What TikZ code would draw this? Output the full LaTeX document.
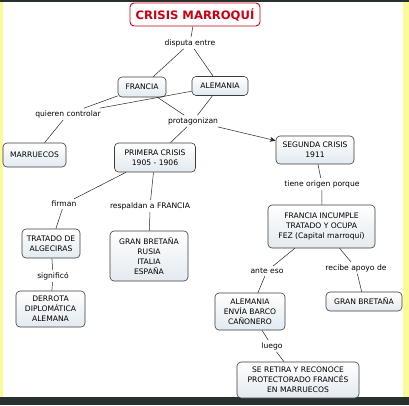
\documentclass[tikz,border=0pt]{standalone}
\usepackage{fontspec}
\setmainfont{DejaVu Sans}
\usetikzlibrary{arrows.meta}
\definecolor{boxline}{RGB}{60,60,60}
\definecolor{boxfill}{RGB}{226,234,240}
\definecolor{titlered}{RGB}{200,0,20}
\definecolor{edgeyellow}{RGB}{250,250,150}
\definecolor{barcol}{RGB}{40,48,48}
\tikzset{
  concept/.style={draw=boxline, line width=0.6pt, rounded corners=4pt, top color=white, bottom color=boxfill,
    align=center, font=\fontsize{7.6}{10}\selectfont, inner sep=1pt},
  linklabel/.style={align=center, font=\fontsize{7.6}{9}\selectfont, inner sep=2pt, fill=white},
  conn/.style={draw=black!85, line width=0.5pt},
}
\begin{document}
\begin{tikzpicture}[x=1pt,y=-1pt]
\useasboundingbox (0,0) rectangle (409,405);
\fill[white] (0,0) rectangle (409,405);
\fill[edgeyellow] (0,0) rectangle (3,405);
\fill[edgeyellow] (403,0) rectangle (409,405);
\fill[barcol] (0,0) rectangle (409,1.5);
\fill[barcol] (0,397) rectangle (409,405);

% concepts
\node[concept, draw=titlered, line width=0.9pt, top color=white, bottom color=white!92!boxfill,
  minimum width=130pt, minimum height=23pt, font=\bfseries\fontsize{11.6}{13}\selectfont, text=titlered] (title) at (195,14.5) {CRISIS MARROQUÍ};
\node[concept, minimum width=48pt, minimum height=20pt] (francia) at (142,87) {FRANCIA};
\node[concept, minimum width=56pt, minimum height=19pt] (alemania) at (220,86) {ALEMANIA};
\node[concept, minimum width=63pt, minimum height=24pt] (marruecos) at (34.5,155) {MARRUECOS};
\node[concept, minimum width=81pt, minimum height=29pt] (primera) at (155,157.5) {PRIMERA CRISIS\\1905 - 1906};
\node[concept, minimum width=78pt, minimum height=28pt] (segunda) at (315,150) {SEGUNDA CRISIS\\1911};
\node[concept, minimum width=58pt, minimum height=29pt] (tratado) at (51,243.5) {TRATADO DE\\ALGECIRAS};
\node[concept, minimum width=78pt, minimum height=50pt] (aliados) at (149,256) {GRAN BRETAÑA\\RUSIA\\ITALIA\\ESPAÑA};
\node[concept, minimum width=107pt, minimum height=43pt] (incumple) at (321.5,226.5) {FRANCIA INCUMPLE\\TRATADO Y OCUPA\\FEZ (Capital marroquí)};
\node[concept, minimum width=69pt, minimum height=36pt] (derrota) at (50.5,309) {DERROTA\\DIPLOMÁTICA\\ALEMANA};
\node[concept, minimum width=70pt, minimum height=37pt] (envia) at (250,311.5) {ALEMANIA\\ENVÍA BARCO\\CAÑONERO};
\node[concept, minimum width=76pt, minimum height=19pt] (gb) at (364,301.5) {GRAN BRETAÑA};
\node[concept, minimum width=122pt, minimum height=36pt] (retira) at (298,380) {SE RETIRA Y RECONOCE\\PROTECTORADO FRANCÉS\\EN MARRUECOS};

% link labels
\node[linklabel] (disputa) at (190,43) {disputa entre};
\node[linklabel] (quieren) at (68,114) {quieren controlar};
\node[linklabel] (protag) at (193,121) {protagonizan};
\node[linklabel] (origen) at (322,184) {tiene origen porque};
\node[linklabel] (firman) at (64,204) {firman};
\node[linklabel] (respaldan) at (150,206) {respaldan a FRANCIA};
\node[linklabel] (signif) at (53,276) {significó};
\node[linklabel] (ante) at (267,271) {ante eso};
\node[linklabel] (recibe) at (356,268) {recibe apoyo de};
\node[linklabel] (luego) at (272,346) {luego};

% connectors
\draw[conn] (title) -- (disputa);
\draw[conn] (disputa) -- (francia);
\draw[conn] (disputa) -- (alemania);
\draw[conn] (francia) -- (quieren);
\draw[conn] (alemania) -- (quieren);
\draw[conn] (quieren) -- (marruecos);
\draw[conn] (francia) -- (protag);
\draw[conn] (alemania) -- (protag);
\draw[conn] (protag) -- (primera);
\draw[conn, -{Stealth[length=6pt,width=5pt]}] (protag) -- (segunda);
\draw[conn] (primera) -- (firman);
\draw[conn] (firman) -- (tratado);
\draw[conn] (primera) -- (respaldan);
\draw[conn] (respaldan) -- (aliados);
\draw[conn] (tratado) -- (signif);
\draw[conn] (signif) -- (derrota);
\draw[conn] (segunda) -- (origen);
\draw[conn] (origen) -- (incumple);
\draw[conn] (incumple) -- (ante);
\draw[conn] (ante) -- (envia);
\draw[conn] (incumple) -- (recibe);
\draw[conn] (recibe) -- (gb);
\draw[conn] (envia) -- (luego);
\draw[conn] (luego) -- (retira);
\end{tikzpicture}
\end{document}
